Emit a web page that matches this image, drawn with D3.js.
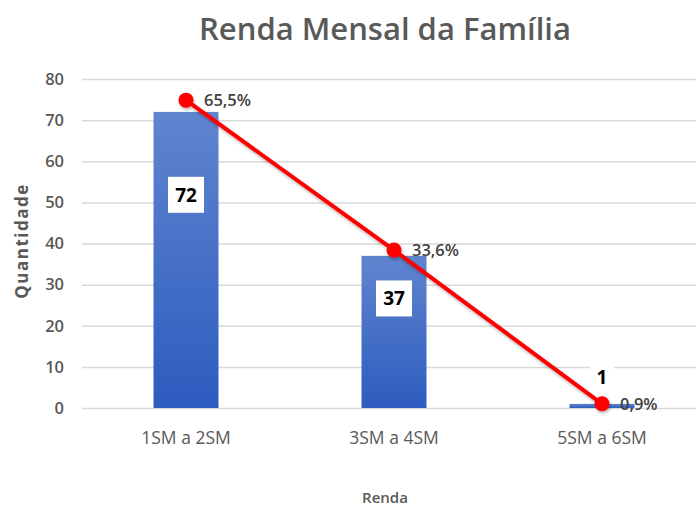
<!DOCTYPE html>
<html>
<head>
<meta charset="UTF-8">
<title>Renda Mensal da Família</title>
<script src="https://d3js.org/d3.v7.min.js"></script>
<style>
body { margin: 0; background: #fff; }
text { font-family: "Open Sans", sans-serif; }
</style>
</head>
<body>
<figure class=chart style="margin:0"></figure>
<script type="text/javascript">

/* Data */
var categories = ['1SM a 2SM', '3SM a 4SM', '5SM a 6SM'];
var quantities = [72, 37, 1];
var percents = [65.5, 33.6, 0.9];
var yTicks = [0, 10, 20, 30, 40, 50, 60, 70, 80];

/* Global variables */
var W = 696, H = 509;
var grey = '#595959';

var x = d3.scaleBand()
	.domain(categories)
	.range([82, 706])
	.paddingInner(0.6875)
	.paddingOuter(0.34375);
var y = d3.scaleLinear().domain([0, 80]).range([408, 79]);
var yPct = d3.scaleLinear().domain([0, 70]).range([408, 79]);	// hidden secondary axis

var svg = d3.select('figure').append('svg')
	.attr('width', W)
	.attr('height', H);

var defs = svg.append('defs');
var grad = defs.append('linearGradient')
	.attr('id', 'barGrad')
	.attr('x1', 0).attr('y1', 0).attr('x2', 0).attr('y2', 1);
grad.append('stop').attr('offset', '0%').attr('stop-color', '#6085cf');
grad.append('stop').attr('offset', '100%').attr('stop-color', '#2d5cbf');

var shadow = defs.append('filter').attr('id', 'shadow')
	.attr('x', '-20%').attr('y', '-20%').attr('width', '140%').attr('height', '140%');
shadow.append('feDropShadow')
	.attr('dx', 1).attr('dy', 2).attr('stdDeviation', 1.5)
	.attr('flood-color', '#000').attr('flood-opacity', 0.3);

/* Title */
svg.append('text')
	.attr('x', 385).attr('y', 40)
	.attr('text-anchor', 'middle')
	.style('font-size', '31px')
	.style('font-weight', 600)
	.style('fill', grey)
	.text('Renda Mensal da Família');

/* Gridlines and y axis */
var yAxis = svg.append('g')
	.attr('transform', 'translate(82,0)')
	.call(d3.axisLeft(y).tickValues(yTicks).tickSize(-620).tickPadding(18));
yAxis.select('.domain').remove();
yAxis.selectAll('.tick line')
	.attr('stroke', '#d9d9d9')
	.attr('stroke-width', 1.5);
yAxis.selectAll('.tick text')
	.style('font-size', '16.5px')
	.style('font-weight', 600)
	.style('fill', grey);

svg.append('text')
	.attr('transform', 'translate(28,241) rotate(-90)')
	.attr('text-anchor', 'middle')
	.style('font-size', '17px')
	.style('font-weight', 700)
	.style('letter-spacing', '1.5px')
	.style('fill', grey)
	.text('Quantidade');

/* x axis */
var xAxis = svg.append('g')
	.attr('transform', 'translate(0,408)')
	.call(d3.axisBottom(x).tickSize(0).tickPadding(24));
xAxis.select('.domain').remove();
xAxis.selectAll('.tick text')
	.style('font-size', '17.5px')
	.style('fill', grey);

svg.append('text')
	.attr('x', 385).attr('y', 503)
	.attr('text-anchor', 'middle')
	.style('font-size', '15px')
	.style('font-weight', 600)
	.style('fill', grey)
	.text('Renda');

/* Bars */
svg.selectAll('.bar')
	.data(quantities)
	.enter().append('rect')
	.attr('class', 'bar')
	.attr('x', function(d, i) { return x(categories[i]); })
	.attr('y', function(d) { return y(d); })
	.attr('width', x.bandwidth())
	.attr('height', function(d) { return y(0) - y(d); })
	.style('fill', 'url(#barGrad)');

/* Value labels in white boxes: inside tall bars, above tiny ones */
function labelY(d) { return d < 10 ? y(d + 6.5) : y(d * 0.72); }
var labels = svg.selectAll('.vlabel')
	.data(quantities)
	.enter().append('g')
	.attr('class', 'vlabel')
	.attr('transform', function(d, i) {
		return 'translate(' + (x(categories[i]) + x.bandwidth() / 2) + ',' + labelY(d) + ')';
	});
labels.append('rect')
	.attr('x', function(d) { return d < 10 ? -12 : -18; })
	.attr('y', -18)
	.attr('width', function(d) { return d < 10 ? 24 : 36; })
	.attr('height', 36)
	.style('fill', '#fff');
labels.append('text')
	.attr('text-anchor', 'middle')
	.attr('dy', '0.36em')
	.style('font-size', '19px')
	.style('font-weight', 700)
	.style('fill', '#000')
	.text(function(d) { return d; });

/* Percent line */
var line = d3.line()
	.x(function(d, i) { return x(categories[i]) + x.bandwidth() / 2; })
	.y(function(d) { return yPct(d); });

var lineG = svg.append('g').attr('filter', 'url(#shadow)');
lineG.append('path')
	.datum(percents)
	.attr('d', line)
	.style('fill', 'none')
	.style('stroke', '#ff0000')
	.style('stroke-width', 4);
lineG.selectAll('circle')
	.data(percents)
	.enter().append('circle')
	.attr('cx', function(d, i) { return x(categories[i]) + x.bandwidth() / 2; })
	.attr('cy', function(d) { return yPct(d); })
	.attr('r', 7.5)
	.style('fill', '#ff0000');

svg.selectAll('.plabel')
	.data(percents)
	.enter().append('text')
	.attr('class', 'plabel')
	.attr('x', function(d, i) { return x(categories[i]) + x.bandwidth() / 2 + 18; })
	.attr('y', function(d) { return yPct(d); })
	.attr('dy', '0.36em')
	.style('font-size', '16.5px')
	.style('font-weight', 600)
	.style('fill', '#404040')
	.text(function(d) { return d3.format('.1f')(d).replace('.', ',') + '%'; });

</script>
</body>
</html>
